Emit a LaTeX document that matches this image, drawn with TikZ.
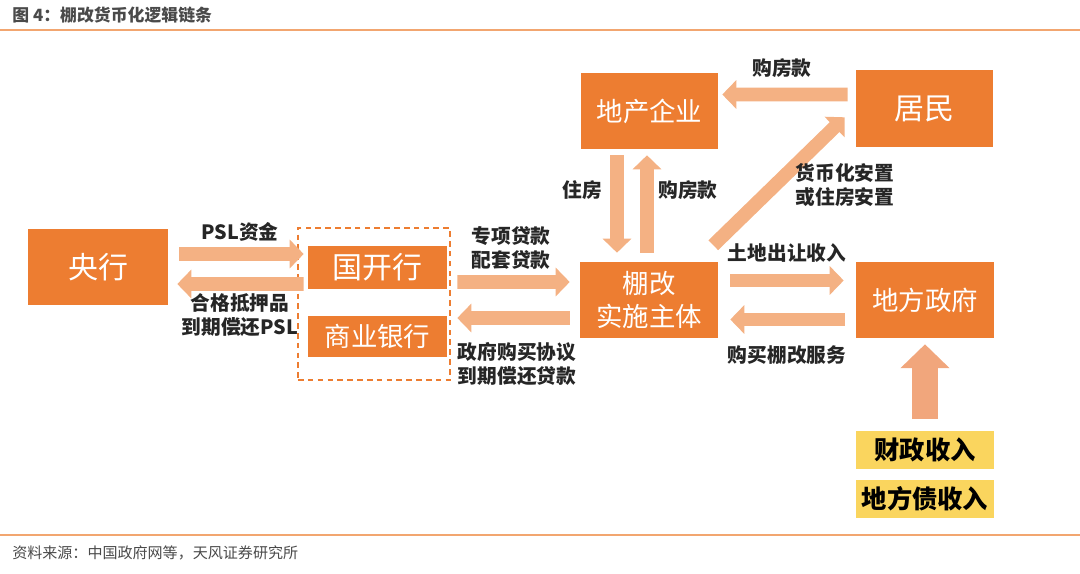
\documentclass[tikz,border=0pt]{standalone}
\usepackage{fontspec}
\setmainfont{Noto Sans CJK SC}
\usetikzlibrary{arrows.meta}
\definecolor{boxorange}{HTML}{ED7D31}
\definecolor{flowpeach}{HTML}{F4B183}
\definecolor{bigpeach}{HTML}{F1A67C}
\definecolor{fundyellow}{HTML}{FAD55E}
\definecolor{labelink}{HTML}{262626}
\definecolor{rulecol}{HTML}{F2A670}
\definecolor{notegray}{HTML}{4A4A4A}
\begin{document}
\begin{tikzpicture}[x=0.025cm,y=-0.025cm]
        \tikzstyle{every node}=[inner sep=0pt]
        \tikzstyle{obox}=[fill=boxorange, text=white, minimum width=3.45cm, minimum height=1.9cm, align=center]
        \tikzstyle{ybox}=[fill=fundyellow, text=black, minimum width=3.45cm, minimum height=0.95cm, font=\fontsize{18}{22}\selectfont\bfseries]
        \tikzstyle{lbl}=[text=labelink, align=center, font=\fontsize{14}{17}\selectfont\bfseries]
        \tikzstyle{flow}=[draw=flowpeach, line width=9.8pt, -{Triangle[length=10pt,width=20pt]}]
        \tikzstyle{bigfont}=[font=\fontsize{21.3}{25}\selectfont]
        \tikzstyle{midfont}=[font=\fontsize{18.8}{24}\selectfont]
        \useasboundingbox (0,0) rectangle (1080,573);

        \node[anchor=west, text=notegray, font=\fontsize{12}{14}\selectfont\bfseries] (title) at (12,15) {图 4：棚改货币化逻辑链条};
        \draw[rulecol, line width=1.4pt] (0,30) -- (1080,30);
        \draw[rulecol, line width=1.4pt] (0,535) -- (1080,535);
        \node[anchor=west, text=notegray, font=\fontsize{10.7}{13}\selectfont] (src) at (12,553) {资料来源：中国政府网等，天风证券研究所};

        \node[obox, bigfont, minimum width=3.5cm] (cb) at (98,267) {央行};
        \node[draw=boxorange, dashed, dash pattern=on 4pt off 3pt, line width=0.9pt, minimum width=3.8cm, minimum height=3.8cm] (banks) at (374,304) {};
        \node[obox, bigfont, minimum width=3.475cm, minimum height=1.075cm] (cdb) at (377.5,267.5) {国开行};
        \node[obox, midfont, minimum width=3.475cm, minimum height=1.025cm] (cmb) at (377.5,336.5) {商业银行};
        \node[obox, midfont, minimum height=1.875cm] (pg) at (649,300) {棚改\\实施主体};
        \node[obox, midfont, minimum width=3.425cm] (dev) at (649.5,111) {地产企业};
        \node[obox, bigfont, minimum width=3.425cm, minimum height=1.925cm] (res) at (924.5,108.5) {居民};
        \node[obox, midfont] (lg) at (925,300) {地方政府};
        \node[ybox] (fis) at (925,449.5) {财政收入};
        \node[ybox] (debt) at (925,499) {地方债收入};

        \draw[flow] ([shift={(11,-13)}]cb.east) -- ([shift={(-4,-13.5)}]cdb.west);
        \draw[flow] ([shift={(-4,16.5)}]cdb.west) -- ([shift={(9,17)}]cb.east);
        \draw[flow] ([shift={(10,14.5)}]cdb.east) -- ([shift={(-10,-18)}]pg.west);
        \draw[flow] ([shift={(-10,18)}]pg.west) -- ([shift={(10,-18.5)}]cmb.east);
        \draw[flow] ([shift={(-8,-14)}]res.west) -- ([shift={(4,-16.5)}]dev.east);
        \draw[flow] ([shift={(-32.5,6)}]dev.south) -- ([shift={(-32,-9.5)}]pg.north);
        \draw[flow] ([shift={(-2,-9.5)}]pg.north) -- ([shift={(-2.5,6)}]dev.south);
        \draw[flow] ([shift={(-5,-17)}]pg.north east) -- ([shift={(-11,-30)}]res.south west);
        \draw[flow] ([shift={(12,-19.5)}]pg.east) -- ([shift={(-12,-19.5)}]lg.west);
        \draw[flow] ([shift={(-11,19.5)}]lg.west) -- ([shift={(12,19.5)}]pg.east);
        \draw[flow, draw=bigpeach, line width=17.8pt, -{Triangle[length=17pt,width=34pt]}] ([shift={(0,-11)}]fis.north) -- ([shift={(0,6)}]lg.south);

        \node[lbl] (psl) at (240,232) {PSL资金};
        \node[lbl] (repay) at (240,315) {合格抵押品\\到期偿还PSL};
        \node[lbl] (loan) at (511,248) {专项贷款\\配套贷款};
        \node[lbl] (deal) at (517,364) {政府购买协议\\到期偿还贷款};
        \node[lbl] (pay1) at (782,68) {购房款};
        \node[lbl] (house) at (582,190) {住房};
        \node[lbl] (pay2) at (688,190) {购房款};
        \node[lbl] (settle) at (845,185) {货币化安置\\或住房安置};
        \node[lbl] (land) at (787,253) {土地出让收入};
        \node[lbl] (serv) at (787,355) {购买棚改服务};
\end{tikzpicture}
\end{document}
